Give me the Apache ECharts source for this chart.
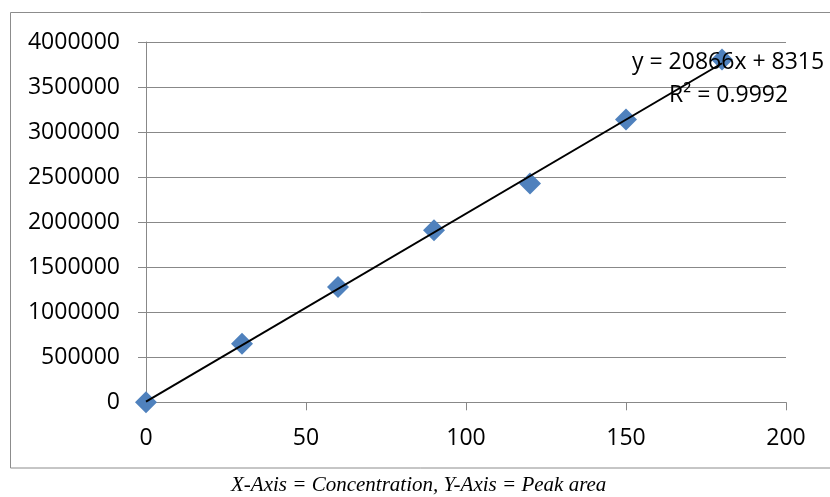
<!DOCTYPE html>
<html>
<head>
<meta charset="utf-8">
<script src="https://cdn.jsdelivr.net/npm/echarts@6/dist/echarts.min.js"></script>
<style>
html,body{margin:0;padding:0;background:#fff;}
#chart{width:830px;height:497px;}
</style>
</head>
<body>
<div id="chart"></div>
<script>
var concentrations = [0, 30, 60, 90, 120, 150, 180];
var peakAreas = [0, 650000, 1280000, 1910000, 2430000, 3140000, 3805000];
var trendSlope = 20866;
var trendIntercept = 8315;
var trendRange = [0, 180];
var equationText = 'y = 20866x + 8315';
var r2Text = 'R² = 0.9992';
var captionText = 'X-Axis = Concentration, Y-Axis = Peak area';

var scatterData = concentrations.map(function (c, i) { return [c, peakAreas[i]]; });
var trendData = trendRange.map(function (x) { return [x, trendSlope * x + trendIntercept]; });

var chart = echarts.init(document.getElementById('chart'), null, {renderer: 'canvas'});
var font = '"Open Sans", sans-serif';
chart.setOption({
  animation: false,
  backgroundColor: '#ffffff',
  grid: {left: 146, right: 44, top: 42, bottom: 94.7, containLabel: false},
  xAxis: {
    type: 'value', min: 0, max: 200, interval: 50,
    axisLine: {show: true, lineStyle: {color: '#888888', width: 1}},
    axisTick: {show: true, inside: false, length: 8, lineStyle: {color: '#888888'}},
    axisLabel: {color: '#000', fontFamily: font, fontSize: 23, margin: 25},
    splitLine: {show: false}
  },
  yAxis: {
    type: 'value', min: 0, max: 4000000, interval: 500000,
    axisLine: {show: true, lineStyle: {color: '#888888', width: 1}},
    axisTick: {show: true, inside: false, length: 8, lineStyle: {color: '#888888'}},
    axisLabel: {color: '#000', fontFamily: font, fontSize: 23, margin: 26,
                formatter: function (v) { return String(v); }},
    splitLine: {show: true, lineStyle: {color: '#888888', width: 1}}
  },
  graphic: [
    {type: 'rect', shape: {x: 10.5, y: 12.5, width: 900, height: 455.5},
     style: {fill: 'none', stroke: '#8c8c8c', lineWidth: 1}, z: -1, silent: true},
    {type: 'text', left: 632, top: 51,
     style: {text: equationText, fill: '#000', font: '23px "Open Sans", sans-serif'}, z: 100},
    {type: 'text', left: 669, top: 84,
     style: {text: r2Text, fill: '#000', font: '23px "Open Sans", sans-serif'}, z: 100},
    {type: 'text', left: 231, top: 475,
     style: {text: captionText, fill: '#000', font: 'italic 21px "Liberation Serif", "Times New Roman", serif'}}
  ],
  series: [
    {type: 'scatter', data: scatterData, symbol: 'diamond', symbolSize: [22, 22],
     itemStyle: {color: '#4f81bd', opacity: 1}, z: 2},
    {type: 'line', data: trendData, showSymbol: false, symbol: 'none',
     lineStyle: {color: '#000000', width: 2}, z: 3}
  ]
});
</script>
</body>
</html>
